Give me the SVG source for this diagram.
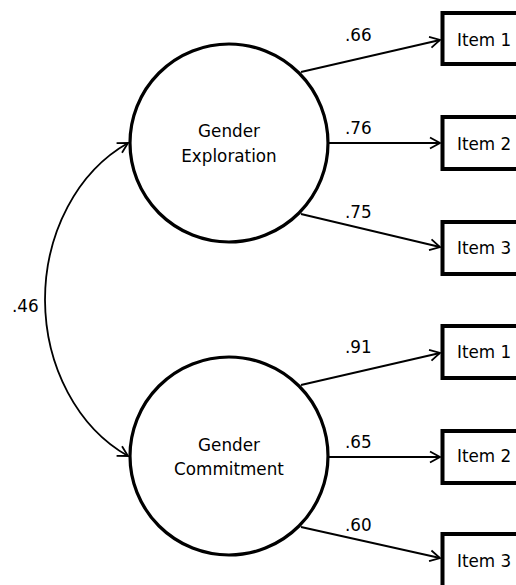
<svg xmlns="http://www.w3.org/2000/svg" width="516" height="585" viewBox="0 0 516 585">
<defs>
<marker id="arr" markerWidth="14" markerHeight="14" refX="11" refY="7" orient="auto" markerUnits="userSpaceOnUse">
<path d="M1,1.5 L11,7 L1,12.5" fill="none" stroke="#000" stroke-width="1.8"/>
</marker>
<style>
.lat{fill:#fff;stroke:#000;stroke-width:3.2}
.box{fill:#fff;stroke:#000;stroke-width:4}
.t{font-family:"DejaVu Sans",Verdana,sans-serif;font-size:16.8px;fill:#000}
.c{stroke:#000;stroke-width:1.8;fill:none;marker-end:url(#arr)}
</style>
</defs>
<rect width="516" height="585" fill="#fff"/>
<g id="connectors">
<path class="c" d="M301,72 L440,40"/>
<path class="c" d="M327,143 L440,143"/>
<path class="c" d="M301,214 L440,247"/>
<path class="c" d="M301,385 L440,353"/>
<path class="c" d="M327,457 L440,457"/>
<path class="c" d="M301,527 L440,558"/>
<path class="c" d="M45,300 A145,173.7 0 0 1 128,143"/>
<path class="c" d="M45,300 A145,173.7 0 0 0 128,456"/>
<text class="t" x="345" y="41">.66</text>
<text class="t" x="345" y="134">.76</text>
<text class="t" x="345" y="218">.75</text>
<text class="t" x="345" y="353">.91</text>
<text class="t" x="345" y="448">.65</text>
<text class="t" x="345" y="531">.60</text>
<text class="t" x="12" y="312">.46</text>
</g>
<g id="gender-exploration">
<circle class="lat" cx="229" cy="143" r="99"/>
<text class="t" x="229" y="137" text-anchor="middle">Gender</text>
<text class="t" x="229" y="162" text-anchor="middle">Exploration</text>
</g>
<g id="gender-commitment">
<circle class="lat" cx="229" cy="456" r="99"/>
<text class="t" x="229" y="451" text-anchor="middle">Gender</text>
<text class="t" x="229" y="475" text-anchor="middle">Commitment</text>
</g>
<g id="e-item1"><rect class="box" x="442.5" y="13" width="90" height="51"/><text class="t" x="457" y="46">Item 1</text></g>
<g id="e-item2"><rect class="box" x="442.5" y="117" width="90" height="52"/><text class="t" x="457" y="150">Item 2</text></g>
<g id="e-item3"><rect class="box" x="442.5" y="222" width="90" height="52"/><text class="t" x="457" y="254">Item 3</text></g>
<g id="c-item1"><rect class="box" x="442.5" y="326" width="90" height="52"/><text class="t" x="457" y="358">Item 1</text></g>
<g id="c-item2"><rect class="box" x="442.5" y="431" width="90" height="52"/><text class="t" x="457" y="462">Item 2</text></g>
<g id="c-item3"><rect class="box" x="442.5" y="534" width="90" height="60"/><text class="t" x="457" y="567">Item 3</text></g>
</svg>
